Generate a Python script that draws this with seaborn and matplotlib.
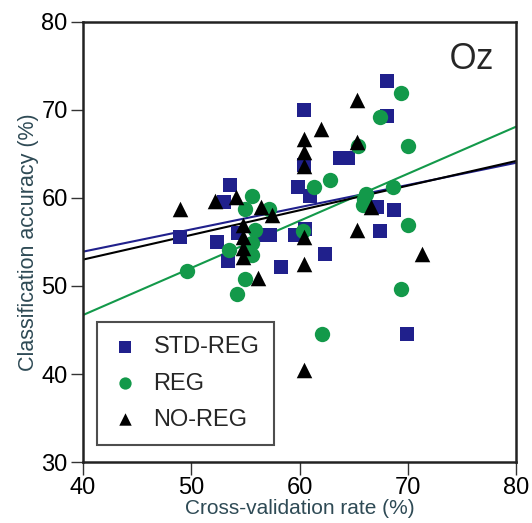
import numpy as np
import pandas as pd
import matplotlib
matplotlib.use("Agg")
import matplotlib.pyplot as plt
import seaborn as sns

# ----------------------------------------------------------------------
# Data (cross-validation rate vs accuracy, Oz)
# ----------------------------------------------------------------------
std_reg_x = [49.0, 52.35, 53.0, 53.6, 53.4, 54.3, 56.6, 57.3, 58.3, 59.6, 59.9, 60.4,
             60.4, 60.5, 61.0, 62.35, 63.7, 64.5, 67.2, 67.4, 68.05, 68.1, 68.7, 69.95]
std_reg_y = [55.6, 55.0, 59.5, 61.5, 52.8, 56.0, 55.8, 55.8, 52.2, 55.8, 61.3, 70.0,
             63.7, 56.5, 60.2, 53.6, 64.5, 64.5, 59.0, 56.3, 73.3, 69.3, 58.6, 44.5]

reg_x = [49.6, 53.5, 54.2, 55.0, 55.0, 55.6, 55.6, 55.9, 55.6, 57.2, 60.3, 61.3,
         62.1, 62.85, 65.4, 66.1, 66.0, 65.9, 67.4, 68.6, 69.35, 69.4, 70.05, 70.0]
reg_y = [51.7, 54.1, 49.1, 50.8, 58.8, 60.2, 54.85, 56.4, 53.5, 58.7, 56.3, 61.3,
         44.5, 62.1, 65.9, 60.5, 59.85, 59.2, 69.2, 61.3, 49.7, 71.9, 65.9, 56.9]

no_reg_x = [48.96, 52.2, 54.1, 56.4, 57.5, 54.75, 54.75, 54.75, 54.75, 56.2, 60.4,
            60.4, 60.4, 60.4, 60.4, 60.4, 61.95, 65.3, 65.3, 65.3, 66.6, 71.3]
no_reg_y = [58.7, 59.7, 60.1, 59.0, 58.1, 56.9, 55.6, 54.3, 53.3, 50.9, 66.7,
            65.2, 63.6, 55.6, 52.5, 40.5, 67.8, 71.1, 66.4, 56.4, 59.0, 53.6]

# regression lines as drawn in the reference (value at x = 40 and x = 80)
fit_x = [40, 80]
fit_std_reg = [53.9, 64.0]
fit_reg = [46.7, 68.1]
fit_no_reg = [53.0, 64.2]

groups = ["STD-REG", "REG", "NO-REG"]
colors = {"STD-REG": "#20208c", "REG": "#13994a", "NO-REG": "#000000"}
markers = {"STD-REG": "s", "REG": "o", "NO-REG": "^"}
sizes = {"STD-REG": 112, "REG": 122, "NO-REG": 125}

df = pd.concat([
    pd.DataFrame({"cv": std_reg_x, "acc": std_reg_y, "group": "STD-REG"}),
    pd.DataFrame({"cv": reg_x, "acc": reg_y, "group": "REG"}),
    pd.DataFrame({"cv": no_reg_x, "acc": no_reg_y, "group": "NO-REG"}),
], ignore_index=True)

fits = pd.concat([
    pd.DataFrame({"cv": fit_x, "acc": fit_std_reg, "group": "STD-REG"}),
    pd.DataFrame({"cv": fit_x, "acc": fit_reg, "group": "REG"}),
    pd.DataFrame({"cv": fit_x, "acc": fit_no_reg, "group": "NO-REG"}),
], ignore_index=True)

# ----------------------------------------------------------------------
# Plot
# ----------------------------------------------------------------------
sns.set_style("ticks")
plt.rcParams["font.family"] = ["Liberation Sans", "DejaVu Sans"]

fig = plt.figure(figsize=(5.32, 5.23), dpi=100)
ax = fig.add_axes([0.156, 0.1166, 0.814, 0.8414])

for g in groups:
    sns.lineplot(data=fits[fits["group"] == g], x="cv", y="acc", color=colors[g],
                 lw=1.5, zorder=1, legend=False, ax=ax)

for i, g in enumerate(groups):
    sub = df[df["group"] == g]
    sns.scatterplot(data=sub, x="cv", y="acc", marker=markers[g], color=colors[g],
                    s=sizes[g], linewidth=0, label=g, zorder=2 + i, ax=ax)

ax.set_xlim(40, 80)
ax.set_ylim(30, 80)
ax.set_xticks([40, 50, 60, 70, 80])
ax.set_yticks([30, 40, 50, 60, 70, 80])
ax.tick_params(labelsize=17, length=9, width=1, color="#333333", labelcolor="black", pad=2)
for s in ax.spines.values():
    s.set_linewidth(1.8)
    s.set_color("#222222")

ax.set_xlabel("Cross-validation rate (%)", fontsize=15, color="#2e4a55", labelpad=0)
ax.set_ylabel("Classification accuracy (%)", fontsize=15.5, color="#2e4a55", labelpad=2)

ax.text(0.948, 0.955, "Oz", transform=ax.transAxes, fontsize=26,
        family=["Open Sans", "DejaVu Sans"], ha="right", va="top")

leg = ax.legend(loc="lower left", bbox_to_anchor=(0.032, 0.039), borderaxespad=0,
                fontsize=17, frameon=True, fancybox=False, handletextpad=0.6,
                labelspacing=0.6, borderpad=0.6, handlelength=1.2, markerscale=0.8)
leg.get_frame().set_edgecolor("#222222")
leg.get_frame().set_linewidth(1.5)

fig.savefig("out.png", dpi=100)
